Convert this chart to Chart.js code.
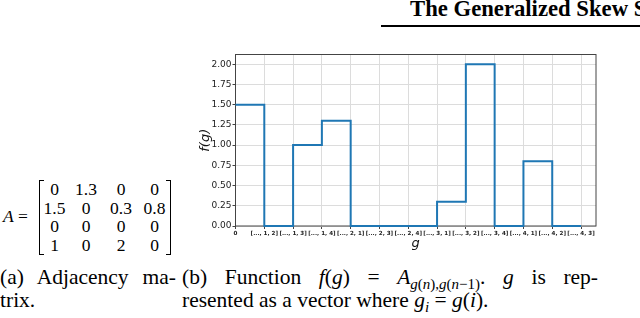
<!DOCTYPE html>
<html>
<head>
<meta charset="utf-8">
<script src="https://cdn.jsdelivr.net/npm/chart.js@4.4.1/dist/chart.umd.min.js"></script>
<style>
  html, body { margin:0; padding:0; background:#fff; }
  body { width:640px; height:318px; overflow:hidden; position:relative; font-family:"Liberation Serif", serif; color:#000; }
  .abs { position:absolute; white-space:nowrap; }
  #header { left:410px; top:-3px; font-size:22.7px; line-height:23px; font-weight:bold; }
  #rule { left:381px; top:25px; width:259px; height:2px; background:#000; }
  #chartBox { position:absolute; left:190px; top:40px; width:420px; height:220px; }
  #lhs { left:3px; top:208px; font-size:17.5px; line-height:17px; }
  .brk { position:absolute; border:1.3px solid #000; width:4px; }
  #bl { left:39px; top:180px; height:73px; border-right:none; }
  #br { left:166px; top:180px; height:73px; border-left:none; }
  #mat { position:absolute; left:41px; top:180px; border-collapse:collapse; font-size:17.5px; }
  #mat td { padding:0; height:18.6px; line-height:18.6px; text-align:center; }
  .cap { position:absolute; font-size:21.5px; line-height:21.5px; white-space:nowrap; }
  .just { text-align:justify; text-align-last:justify; white-space:normal; }
  sub { font-size:15px; vertical-align:-5px; line-height:0; }
</style>
</head>
<body>
<div id="header" class="abs">The Generalized Skew S</div>
<div id="rule" class="abs"></div>

<div id="lhs" class="abs"><i>A</i> =</div>
<div id="bl" class="brk"></div>
<div id="br" class="brk"></div>
<table id="mat"></table>

<div id="chartBox"><canvas id="c" width="420" height="220"></canvas></div>

<div class="cap just" style="left:0px; top:267px; width:176px;">(a) Adjacency ma-</div>
<div class="cap" style="left:0px; top:290px;">trix.</div>
<div class="cap just" style="left:182px; top:267px; width:416px;">(b) Function <i>f</i>(<i>g</i>) = <i>A</i><sub><i>g</i>(<i>n</i>),<i>g</i>(<i>n</i>−1)</sub>. <i>g</i> is rep-</div>
<div class="cap" style="left:182px; top:290px;">resented as a vector where <i>g<sub>i</sub></i> = <i>g</i>(<i>i</i>).</div>

<script>
// ---- data ----
const xTickLabels = ['0', '[..., 1, 2]', '[..., 1, 3]', '[..., 1, 4]', '[..., 2, 1]', '[..., 2, 3]',
  '[..., 2, 4]', '[..., 3, 1]', '[..., 3, 2]', '[..., 3, 4]', '[..., 4, 1]', '[..., 4, 2]', '[..., 4, 3]'];
const fValues = [1.5, 0, 1.0, 1.3, 0, 0, 0, 0.3, 2.0, 0, 0.8, 0, 0];
const yTickValues = [0, 0.25, 0.5, 0.75, 1.0, 1.25, 1.5, 1.75, 2.0];
const matrixRow1 = ['0', '1.3', '0', '0'];
const matrixRow2 = ['1.5', '0', '0.3', '0.8'];
const matrixRow3 = ['0', '0', '0', '0'];
const matrixRow4 = ['1', '0', '2', '0'];

// ---- matrix table ----
const colW = [27, 36, 34, 33];
const mat = document.getElementById('mat');
[matrixRow1, matrixRow2, matrixRow3, matrixRow4].forEach(r => {
  const tr = document.createElement('tr');
  r.forEach((v, j) => {
    const td = document.createElement('td');
    td.style.width = colW[j] + 'px';
    td.textContent = v;
    tr.appendChild(td);
  });
  mat.appendChild(tr);
});

// ---- chart ----
const framePlugin = {
  id: 'frame',
  beforeDatasetsDraw(chart) {
    const a = chart.chartArea, ctx = chart.ctx;
    ctx.save();
    ctx.strokeStyle = '#444';
    ctx.lineWidth = 1;
    ctx.strokeRect(a.left, a.top, a.right - a.left, a.bottom - a.top);
    ctx.restore();
  }
};

new Chart(document.getElementById('c'), {
  type: 'line',
  data: {
    datasets: [{
      data: fValues.map((v, i) => ({ x: i, y: v })),
      borderColor: '#1f77b4',
      borderWidth: 2,
      pointRadius: 0,
      stepped: 'before',
      fill: false,
      clip: false
    }]
  },
  options: {
    responsive: false,
    animation: false,
    layout: { padding: { top: 14.5, right: 14, left: 0, bottom: 0 } },
    plugins: { legend: { display: false }, tooltip: { enabled: false } },
    scales: {
      x: {
        type: 'linear', min: 0, max: 12.52,
        afterFit(s) { s.height = 34; },
        afterBuildTicks(s) { s.ticks = xTickLabels.map((_, i) => ({ value: i })); },
        ticks: {
          callback: (v, i) => xTickLabels[i],
          autoSkip: false, maxRotation: 0, minRotation: 0,
          font: { family: 'DejaVu Sans', size: 5.6, weight: 'bold' },
          color: '#222', padding: 1
        },
        grid: { color: '#dcdcdc', lineWidth: 1, tickLength: 3, tickColor: '#444' },
        border: { display: false },
        title: { display: true, text: 'g', color: '#111',
          font: { family: 'DejaVu Sans', size: 13, style: 'italic' }, padding: { top: 0, bottom: 9 } }
      },
      y: {
        min: 0, max: 2.12,
        afterFit(s) { s.width = 45.5; },
        afterBuildTicks(s) { s.ticks = yTickValues.map(v => ({ value: v })); },
        ticks: {
          callback: v => Number(v).toFixed(2),
          font: { family: 'DejaVu Sans', size: 9 }, color: '#222', padding: 1
        },
        grid: { color: '#dcdcdc', lineWidth: 1, tickLength: 3, tickColor: '#444' },
        border: { display: false },
        title: { display: true, text: 'f(g)', color: '#111',
          font: { family: 'DejaVu Sans', size: 13, style: 'italic' }, padding: { top: 8, bottom: 0 } }
      }
    }
  },
  plugins: [framePlugin]
});
</script>
</body>
</html>
